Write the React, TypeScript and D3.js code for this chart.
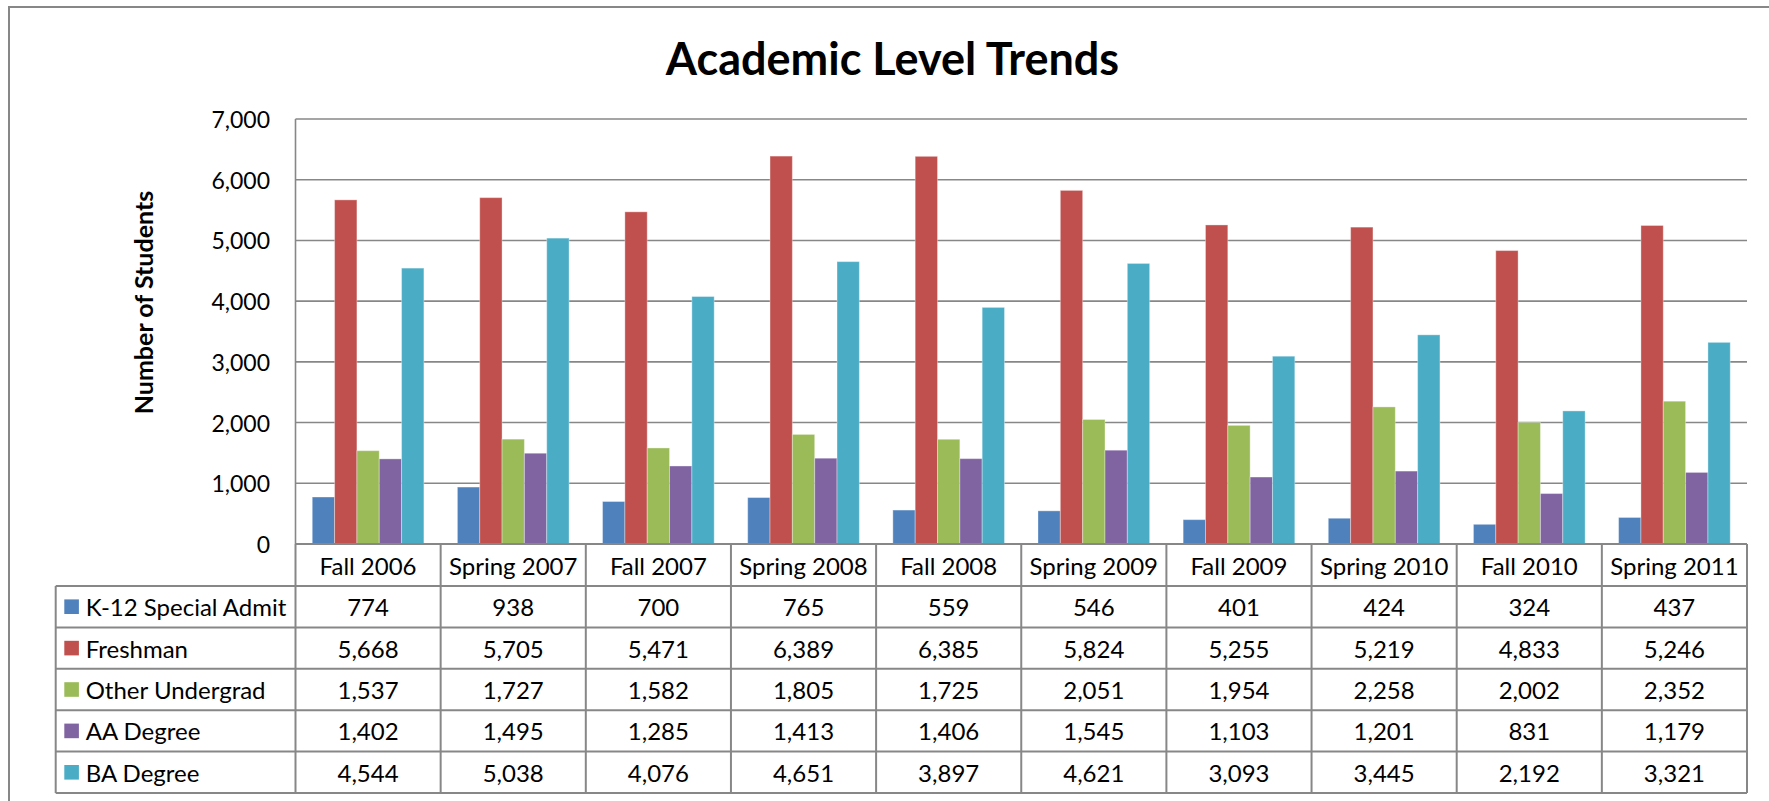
import React from "react";
import * as d3 from "d3";

const categories = [
  "Fall 2006", "Spring 2007", "Fall 2007", "Spring 2008", "Fall 2008",
  "Spring 2009", "Fall 2009", "Spring 2010", "Fall 2010", "Spring 2011",
];
const seriesNames = ["K-12 Special Admit", "Freshman", "Other Undergrad", "AA Degree", "BA Degree"];
const seriesColors = ["#4F81BD", "#C0504D", "#9BBB59", "#8064A2", "#4BACC6"];
const k12SpecialAdmit = [774, 938, 700, 765, 559, 546, 401, 424, 324, 437];
const freshman = [5668, 5705, 5471, 6389, 6385, 5824, 5255, 5219, 4833, 5246];
const otherUndergrad = [1537, 1727, 1582, 1805, 1725, 2051, 1954, 2258, 2002, 2352];
const aaDegree = [1402, 1495, 1285, 1413, 1406, 1545, 1103, 1201, 831, 1179];
const baDegree = [4544, 5038, 4076, 4651, 3897, 4621, 3093, 3445, 2192, 3321];
const yTicks = [0, 1000, 2000, 3000, 4000, 5000, 6000, 7000];
const titleText = "Academic Level Trends";
const yAxisTitle = "Number of Students";

const seriesValues = [k12SpecialAdmit, freshman, otherUndergrad, aaDegree, baDegree];

const W = 1769;
const H = 801;
const plotLeft = 295.5;
const plotRight = 1747;
const plotTop = 119;
const plotBottom = 544;
const headerBottom = 586;
const rowH = 41.4;
const tableLeft = 55.7;
const FONT = "Lato, 'Open Sans', sans-serif";
const GRID = "#878787";
const TXT = 24;
const fmt = d3.format(",");

export default function App() {
  const x = d3.scaleBand<string>().domain(categories).range([plotLeft, plotRight]);
  const inner = d3
    .scaleBand<string>()
    .domain(seriesNames)
    .range([0, x.bandwidth()])
    .paddingInner(0)
    .paddingOuter(0.75);
  const y = d3.scaleLinear().domain([0, 7000]).range([plotBottom, plotTop]);
  const tableBottom = headerBottom + rowH * seriesNames.length;

  return (
    <div style={{ position: "absolute", left: 0, top: 0 }}>
      <svg width={W} height={H} style={{ display: "block", background: "#fff" }} fontFamily={FONT}>
        <rect x={0} y={0} width={W} height={H} fill="#fff" />
        {/* chart frame */}
        <rect x={9} y={7} width={W + 20} height={H + 20} fill="none" stroke={GRID} strokeWidth={2} />

        {/* title */}
        <text x={892.5} y={75} textAnchor="middle" fontSize={45} fontWeight={700} fill="#000">
          {titleText}
        </text>

        {/* y-axis title */}
        <text
          transform={`translate(${153},${302.5}) rotate(-90)`}
          textAnchor="middle"
          fontSize={25}
          fontWeight={700}
          fill="#000"
        >
          {yAxisTitle}
        </text>

        {/* gridlines */}
        {yTicks.map((t) => (
          <line key={t} x1={plotLeft} x2={plotRight} y1={y(t)} y2={y(t)} stroke={GRID} strokeWidth={1.6} />
        ))}
        {/* y tick labels */}
        {yTicks.map((t) => (
          <text
            key={"l" + t}
            x={270}
            y={y(t)}
            textAnchor="end"
            dominantBaseline="central"
            fontSize={23}
            fill="#000"
          >
            {fmt(t)}
          </text>
        ))}

        {/* bars */}
        {categories.map((c, ci) => (
          <g key={c} transform={`translate(${x(c)},0)`}>
            {seriesNames.map((s, si) => {
              const v = seriesValues[si][ci];
              return (
                <rect
                  key={s}
                  x={inner(s)}
                  y={y(v)}
                  width={inner.bandwidth()}
                  height={y(0) - y(v)}
                  fill={seriesColors[si]}
                  stroke="#ffffff"
                  strokeOpacity={0.35}
                  strokeWidth={1}
                />
              );
            })}
          </g>
        ))}

        {/* plot area left axis */}
        <line x1={plotLeft} x2={plotLeft} y1={plotTop} y2={plotBottom} stroke={GRID} strokeWidth={1.6} />

        {/* data table */}
        {categories.map((c) => (
          <line
            key={"v" + c}
            x1={x(c)}
            x2={x(c)}
            y1={plotBottom}
            y2={tableBottom}
            stroke={GRID}
            strokeWidth={2}
          />
        ))}
        <line x1={plotRight} x2={plotRight} y1={plotBottom} y2={tableBottom} stroke={GRID} strokeWidth={2} />
        <line x1={tableLeft} x2={tableLeft} y1={headerBottom} y2={tableBottom} stroke={GRID} strokeWidth={2} />
        <line x1={plotLeft} x2={plotRight} y1={plotBottom} y2={plotBottom} stroke={GRID} strokeWidth={2} />
        {d3.range(seriesNames.length + 1).map((i) => (
          <line
            key={"h" + i}
            x1={tableLeft}
            x2={plotRight}
            y1={headerBottom + i * rowH}
            y2={headerBottom + i * rowH}
            stroke={GRID}
            strokeWidth={2}
          />
        ))}

        {/* category labels */}
        {categories.map((c) => (
          <text
            key={"c" + c}
            x={(x(c) as number) + x.bandwidth() / 2}
            y={(plotBottom + headerBottom) / 2}
            textAnchor="middle"
            dominantBaseline="central"
            fontSize={TXT}
            fill="#000"
          >
            {c}
          </text>
        ))}

        {/* rows */}
        {seriesNames.map((s, si) => {
          const cy = headerBottom + si * rowH + rowH / 2;
          return (
            <g key={"r" + s}>
              <rect x={64.3} y={cy - 7.3} width={14.6} height={14.6} fill={seriesColors[si]} />
              <text x={85.7} y={cy} dominantBaseline="central" fontSize={TXT} fill="#000">
                {s}
              </text>
              {categories.map((c, ci) => (
                <text
                  key={c}
                  x={(x(c) as number) + x.bandwidth() / 2}
                  y={cy}
                  textAnchor="middle"
                  dominantBaseline="central"
                  fontSize={TXT}
                  fill="#000"
                >
                  {fmt(seriesValues[si][ci])}
                </text>
              ))}
            </g>
          );
        })}
      </svg>
    </div>
  );
}
